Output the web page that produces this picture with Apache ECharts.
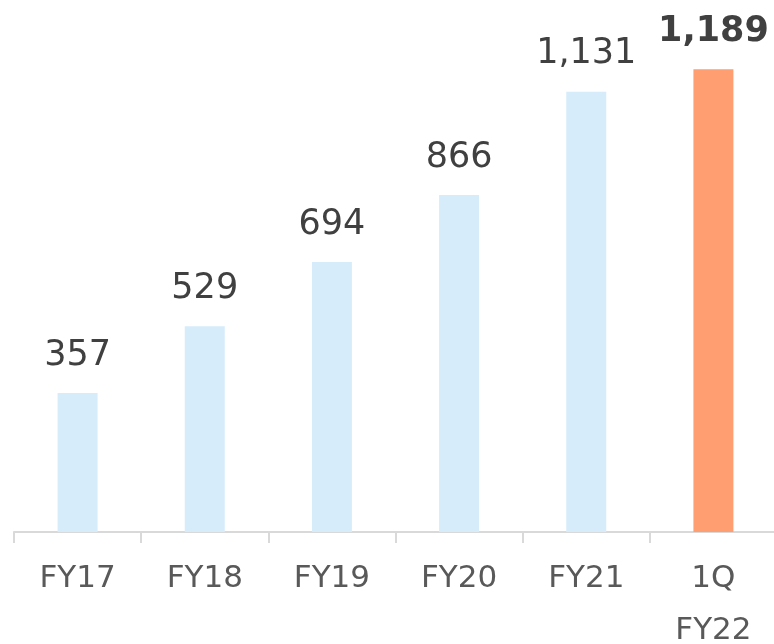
<!DOCTYPE html>
<html><head><meta charset="utf-8">
<script src="https://cdn.jsdelivr.net/npm/echarts@6/dist/echarts.min.js"></script>
<style>html,body{margin:0;padding:0;background:#fff}#c{width:774px;height:644px}</style>
</head><body><div id="c"></div>
<script>
const categories = ['FY17','FY18','FY19','FY20','FY21','1Q\nFY22'];
const values = [357, 529, 694, 866, 1131, 1189];
const highlightIndex = 5;

const chart = echarts.init(document.getElementById('c'));
chart.setOption({
  animation: false,
  grid: {left: 14, right: -3, top: 65, bottom: 112, containLabel: false, outerBoundsMode: 'none'},
  xAxis: {
    type: 'category', data: categories,
    axisLine: {lineStyle: {color: '#D9D9D9', width: 2}},
    axisTick: {show: true, length: 11, lineStyle: {color: '#D9D9D9', width: 2}},
    axisLabel: {color: '#595959', fontFamily: 'DejaVu Sans', fontSize: 31, lineHeight: 52, margin: 21, interval: 0}
  },
  yAxis: {type: 'value', min: 0, max: 1200, show: false, splitLine: {show: false}},
  series: [{
    type: 'bar', barWidth: 40,
    data: values.map((v, i) => ({
      value: v,
      itemStyle: {color: i === highlightIndex ? '#FF9E70' : '#D6ECFB'},
      label: i === highlightIndex ? {fontWeight: 'bold', color: '#404040'} : {}
    })),
    label: {
      show: true, position: 'top', distance: 20,
      fontFamily: 'DejaVu Sans', fontSize: 35, color: '#404040',
      formatter: p => p.value.toLocaleString('en-US')
    }
  }]
});
</script></body></html>
